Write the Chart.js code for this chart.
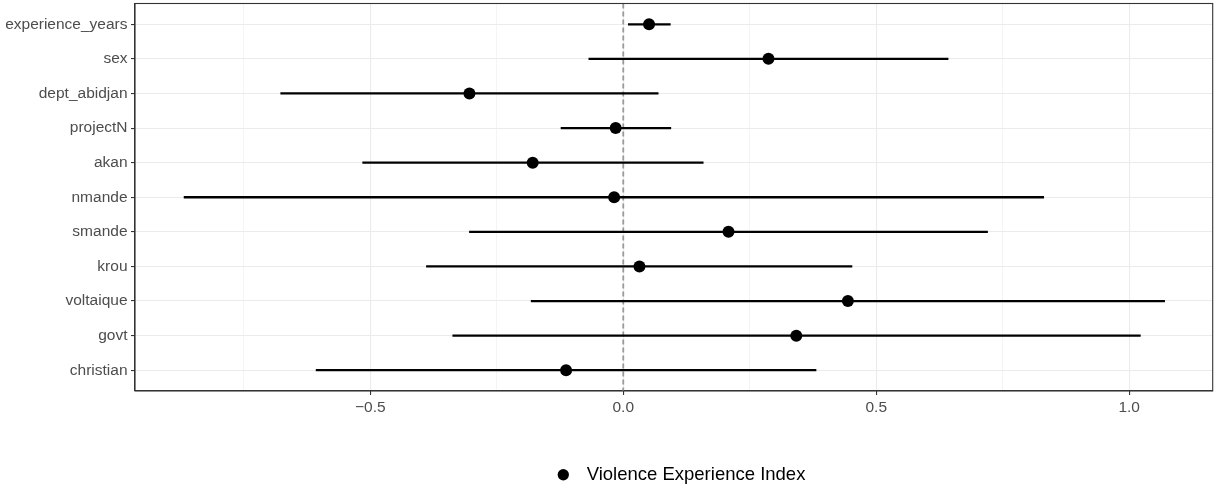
<!DOCTYPE html>
<html>
<head>
<meta charset="utf-8">
<script src="https://cdn.jsdelivr.net/npm/chart.js@4"></script>
<style>
  html, body { margin: 0; padding: 0; background: #fff; overflow: hidden; }
  #wrap { width: 1214px; height: 487px; }
</style>
</head>
<body>
<div id="wrap"><canvas id="coefChart"></canvas></div>
<script>
// termes du modèle, du haut vers le bas
var terms = ['experience_years', 'sex', 'dept_abidjan', 'projectN', 'akan', 'nmande',
    'smande', 'krou', 'voltaique', 'govt', 'christian'];
var estimates = [0.051, 0.287, -0.304, -0.015, -0.179, -0.018, 0.208, 0.032, 0.444, 0.342, -0.113];
var lower = [0.010, -0.068, -0.677, -0.123, -0.515, -0.868, -0.304, -0.389, -0.182, -0.337, -0.607];
var upper = [0.093, 0.642, 0.069, 0.094, 0.158, 0.831, 0.720, 0.452, 1.070, 1.022, 0.381];
var seriesName = 'Violence Experience Index';
var majorTicks = [-0.5, 0, 0.5, 1.0];
var minorTicks = [-0.75, -0.25, 0.25, 0.75];

var fontFamily = "'Liberation Sans', Arial, Helvetica, sans-serif";
var gridColor = '#ebebeb';

function isMajor(v) {
    return majorTicks.some(function (m) { return Math.abs(m - v) < 1e-9; });
}

// cadre du panneau (style theme_bw)
var panelBorder = {
    id: 'panelBorder',
    afterLayout: function (chart) {
        // légende un peu décalée vers la droite, comme dans ggplot
        chart.legend.left += 6;
        chart.legend.right += 6;
    },
    afterDatasetsDraw: function (chart) {
        var a = chart.chartArea, ctx = chart.ctx;
        ctx.save();
        ctx.strokeStyle = '#333333';
        ctx.lineWidth = 1.1;
        ctx.strokeRect(a.left, a.top, a.right - a.left, a.bottom - a.top);
        ctx.restore();
    }
};

var ctx = document.getElementById('coefChart').getContext('2d');
window.myChart = new Chart(ctx, {
    type: 'scatter',
    data: {
        datasets: [{
            type: 'scatter',
            label: ' ' + seriesName,
            data: terms.map(function (t, i) { return { x: estimates[i], y: i + 1 }; }),
            backgroundColor: '#000000',
            borderWidth: 0,
            pointRadius: 6,
            pointHoverRadius: 6,
            pointStyle: 'circle',
            order: 0
        }, {
            type: 'bar',
            label: 'ci',
            indexAxis: 'y',
            data: terms.map(function (t, i) { return { y: i + 1, x: [lower[i], upper[i]] }; }),
            backgroundColor: '#000000',
            borderWidth: 0,
            barThickness: 1.6,
            order: 1
        }, {
            type: 'line',
            label: 'zero',
            data: [{ x: 0, y: 0.4 }, { x: 0, y: 11.6 }],
            borderColor: '#999999',
            borderWidth: 1.8,
            borderDash: [5, 3],
            pointRadius: 0,
            order: 2
        }]
    },
    options: {
        responsive: true,
        maintainAspectRatio: false,
        animation: false,
        layout: { autoPadding: false, padding: { top: 3.5, right: 1.3, left: 0, bottom: -7 } },
        plugins: {
            tooltip: { enabled: false },
            legend: {
                position: 'bottom',
                fullSize: false,
                labels: {
                    filter: function (item) { return item.datasetIndex === 0; },
                    usePointStyle: true,
                    boxWidth: 18,
                    boxHeight: 8,
                    padding: 0,
                    color: '#000000',
                    font: { family: fontFamily, size: 18.5 }
                }
            }
        },
        scales: {
            x: {
                type: 'linear',
                min: -0.965,
                max: 1.165,
                offset: false,
                afterBuildTicks: function (axis) {
                    axis.ticks = minorTicks.concat(majorTicks).sort(function (a, b) { return a - b; })
                        .map(function (v) { return { value: v }; });
                },
                afterFit: function (axis) {
                    axis.height = 74.5;
                    axis.paddingLeft = 0;
                    axis.paddingRight = 0;
                },
                grid: {
                    offset: false,
                    color: gridColor,
                    lineWidth: function (c) { return c.tick && isMajor(c.tick.value) ? 1.1 : 0.55; },
                    tickColor: function (c) { return c.tick && isMajor(c.tick.value) ? '#333333' : 'rgba(0,0,0,0)'; },
                    tickWidth: 1.1,
                    tickLength: 4
                },
                border: { color: '#333333', width: 1.1 },
                ticks: {
                    autoSkip: false,
                    maxRotation: 0,
                    padding: 3,
                    color: '#4d4d4d',
                    font: { family: fontFamily, size: 15.5 },
                    callback: function (v) {
                        if (!isMajor(v)) return '';
                        var s = Math.abs(v).toFixed(1);
                        return v < 0 ? '\u2212' + s : s;
                    }
                }
            },
            y: {
                type: 'linear',
                reverse: true,
                offset: false,
                min: 0.4,
                max: 11.6,
                afterBuildTicks: function (axis) {
                    axis.ticks = terms.map(function (t, i) { return { value: i + 1 }; });
                },
                afterFit: function (axis) {
                    axis.width = 135;
                    axis.paddingTop = 0;
                    axis.paddingBottom = 0;
                },
                grid: {
                    offset: false,
                    color: gridColor,
                    lineWidth: 1.1,
                    tickColor: '#333333',
                    tickWidth: 1.1,
                    tickLength: 4
                },
                border: { color: '#333333', width: 1.1 },
                ticks: {
                    autoSkip: false,
                    padding: 3.5,
                    color: '#4d4d4d',
                    font: { family: fontFamily, size: 15.5 },
                    callback: function (v) { return terms[Math.round(v) - 1]; }
                }
            }
        }
    },
    plugins: [panelBorder]
});
</script>
</body>
</html>
